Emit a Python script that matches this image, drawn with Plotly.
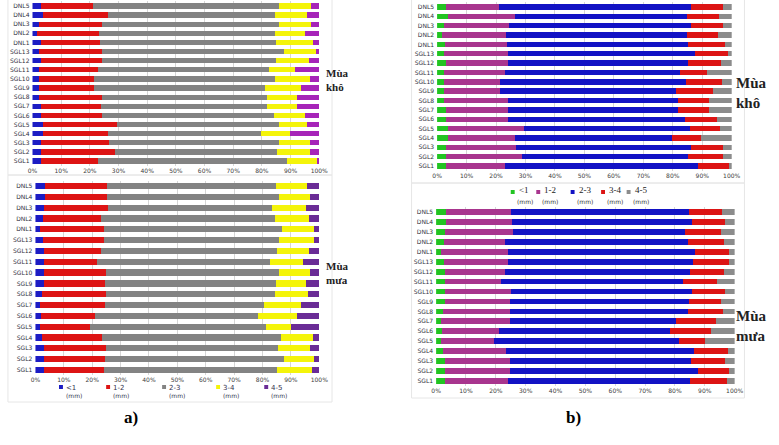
import plotly.graph_objects as go

W, H = 779, 445

# Sites, listed bottom to top
sites = ["SGL1", "SGL2", "SGL3", "SGL4", "SGL5", "SGL6", "SGL7", "SGL8", "SGL9",
         "SGL10", "SGL11", "SGL12", "SGL13", "DNL1", "DNL2", "DNL3", "DNL4", "DNL5"]

size_classes = ["<1", "1-2", "2-3", "3-4", "4-5"]

# Dry season (Mùa khô) percentages per size class
dry_lt1 = [3.1, 3.1, 3.1, 3.6, 3.6, 3.1, 3.1, 2.4, 2.4, 2.2, 2.4, 3.1, 2.4, 2.8, 1.7, 2.2, 3.6, 3.1]
dry_1_2 = [19.9, 25.6, 23.6, 22.7, 25.8, 21.0, 20.8, 21.7, 18.9, 19.1, 20.6, 21.1, 21.8, 20.8, 21.6, 22.2, 22.7, 18.0]
dry_2_3 = [65.6, 56.6, 59.4, 53.4, 56.4, 60.1, 57.8, 57.6, 59.8, 63.1, 59.6, 60.8, 63.4, 61.4, 61.4, 61.7, 58.4, 65.0]
dry_3_4 = [10.5, 11.6, 10.8, 10.0, 10.1, 10.8, 10.5, 10.7, 12.5, 12.3, 9.1, 11.3, 11.3, 12.8, 10.5, 11.1, 11.1, 11.1]
dry_4_5 = [0.9, 3.1, 3.1, 10.3, 4.1, 5.0, 7.8, 7.6, 6.4, 3.3, 8.3, 3.7, 1.1, 2.2, 4.8, 2.8, 4.2, 2.8]

# Rainy season (Mùa mưa)
wet_lt1 = [3.0, 3.0, 3.0, 2.4, 1.7, 2.0, 1.7, 2.4, 3.1, 3.1, 3.1, 3.1, 2.8, 1.7, 2.5, 3.0, 3.3, 3.3]
wet_1_2 = [21.2, 21.6, 21.8, 20.9, 17.6, 18.9, 22.9, 22.4, 21.5, 21.9, 18.7, 20.0, 21.2, 22.5, 20.6, 22.7, 22.0, 21.8]
wet_2_3 = [60.8, 63.0, 60.6, 63.2, 61.9, 57.4, 55.9, 59.5, 60.0, 60.7, 60.8, 61.9, 61.9, 62.6, 61.4, 57.8, 60.4, 59.5]
wet_3_4 = [12.5, 10.4, 11.5, 11.2, 9.0, 13.7, 13.2, 11.7, 10.9, 11.2, 11.6, 11.4, 12.1, 11.2, 11.9, 11.8, 10.9, 11.0]
wet_4_5 = [2.5, 2.0, 3.1, 2.3, 9.8, 8.0, 6.3, 4.0, 4.5, 3.1, 5.8, 3.6, 2.0, 2.0, 3.6, 4.7, 3.4, 4.4]

tick_vals = [0, 10, 20, 30, 40, 50, 60, 70, 80, 90, 100]
tick_text = ["0%", "10%", "20%", "30%", "40%", "50%", "60%", "70%", "80%", "90%", "100%"]

dry = [dry_lt1, dry_1_2, dry_2_3, dry_3_4, dry_4_5]
wet = [wet_lt1, wet_1_2, wet_2_3, wet_3_4, wet_4_5]

colors_a_top = ["#1c1cc4", "#dd1414", "#838383", "#f4f40a", "#a624b8"]
colors_a_bot = ["#1c1cc4", "#dd1414", "#838383", "#f4f40a", "#6a2c96"]
colors_b = ["#22c422", "#a8358e", "#1212c4", "#dc1414", "#8c8c8c"]


def px(x):
    return x / W


def py(y):
    return 1 - y / H


fig = go.Figure()

panels = [
    # (axis suffix, data, colors, x0, x1, ytop, ybottom)
    ("", dry, colors_a_top, 28, 320, 1.4, 165.6),
    ("2", wet, colors_a_bot, 31, 320, 180.6, 375.4),
    ("3", dry, colors_b, 440, 740, 2.3, 170.7),
    ("4", wet, colors_b, 439, 743, 207, 386),
]

for suf, data, cols, x0, x1, yt, yb in panels:
    for k, name in enumerate(size_classes):
        fig.add_trace(go.Bar(
            y=sites, x=data[k], orientation="h", name=name,
            marker=dict(color=cols[k], line=dict(width=0)),
            xaxis="x" + suf, yaxis="y" + suf, showlegend=False,
            hovertemplate="%{y}: %{x}%<extra>" + name + "</extra>",
        ))
    fig.layout["xaxis" + suf] = dict(
        domain=[px(x0), px(x1)], range=[0, 100], anchor="y" + suf,
        tickvals=tick_vals, ticktext=tick_text, showgrid=True,
        gridcolor="#d6d6d6", gridwidth=1, zeroline=False, showline=False,
        tickfont=dict(size=6, color="#404040", family="Arial Black, DejaVu Sans"),
        ticks="", fixedrange=True,
    )
    fig.layout["yaxis" + suf] = dict(
        domain=[py(yb), py(yt)], anchor="x" + suf, type="category",
        categoryorder="array", categoryarray=sites, range=[-0.5, 17.5],
        showgrid=False, zeroline=False, showline=False, ticks="",
        tickfont=dict(size=6, color="#303040", family="DejaVu Sans"),
        ticklabelstandoff=2, fixedrange=True,
    )

shapes = []
annotations = []

# faint panel frames
for (x0, y0, x1, y1) in [(3, -2, 333, 175), (3, 175, 333, 402),
                         (414, -2, 753, 183), (414, 183, 753, 398)]:
    shapes.append(dict(type="rect", xref="paper", yref="paper",
                       x0=px(x0), x1=px(x1), y0=py(y1), y1=py(y0),
                       line=dict(color="#e6e6e6", width=1), layer="below"))

# legend a
leg_a_x = [57, 105, 162, 217, 266]
for i, name in enumerate(size_classes):
    mx = leg_a_x[i]
    shapes.append(dict(type="rect", xref="paper", yref="paper",
                       x0=px(mx - 2), x1=px(mx + 2), y0=py(389), y1=py(385),
                       fillcolor=colors_a_bot[i], line=dict(width=0)))
    annotations.append(dict(xref="paper", yref="paper", x=px(mx + 3), y=py(388),
                            text=name, showarrow=False, xanchor="left", yanchor="middle",
                            font=dict(size=7, color="#33334d", family="DejaVu Sans")))
    annotations.append(dict(xref="paper", yref="paper", x=px(mx + 3), y=py(395),
                            text="(mm)", showarrow=False, xanchor="left", yanchor="middle",
                            font=dict(size=6, color="#33334d", family="DejaVu Sans")))

# legend b
leg_b_x = [517, 543, 578, 609, 635]
for i, name in enumerate(size_classes):
    mx = leg_b_x[i]
    shapes.append(dict(type="rect", xref="paper", yref="paper",
                       x0=px(mx - 2), x1=px(mx + 2), y0=py(194), y1=py(190),
                       fillcolor=colors_b[i], line=dict(width=0)))
    annotations.append(dict(xref="paper", yref="paper", x=px(mx + 4), y=py(190),
                            text=name, showarrow=False, xanchor="left", yanchor="middle",
                            font=dict(size=9, color="#222222", family="Liberation Serif")))
    annotations.append(dict(xref="paper", yref="paper", x=px(mx + 2), y=py(201),
                            text="(mm)", showarrow=False, xanchor="left", yanchor="middle",
                            font=dict(size=6, color="#333333", family="DejaVu Sans")))

# season labels
season = [("Mùa<br>khô", 325, 80, 11), ("Mùa<br>mưa", 325, 273, 11),
          ("Mùa<br>khô", 742, 93, 15), ("Mùa<br>mưa", 742, 326, 15)]
for txt, x, y, s in season:
    annotations.append(dict(xref="paper", yref="paper", x=px(x), y=py(y), text="<b>" + txt + "</b>",
                            showarrow=False, xanchor="left", yanchor="middle", align="left",
                            font=dict(size=s, color="#222222", family="Liberation Serif")))

annotations.append(dict(xref="paper", yref="paper", x=px(119), y=py(429), text="<b>a)</b>",
                        showarrow=False, font=dict(size=17, color="#000000", family="Liberation Serif")))
annotations.append(dict(xref="paper", yref="paper", x=px(589), y=py(429), text="<b>b)</b>",
                        showarrow=False, font=dict(size=17, color="#000000", family="Liberation Serif")))

fig.update_layout(
    width=W, height=H, margin=dict(l=0, r=0, t=0, b=0),
    barmode="stack", bargap=0.42,
    paper_bgcolor="white", plot_bgcolor="white",
    shapes=shapes, annotations=annotations, showlegend=False,
)

fig.write_html("out.html", config={"displayModeBar": False},
               post_script="document.body.style.margin='0px';document.body.style.overflow='hidden';")
